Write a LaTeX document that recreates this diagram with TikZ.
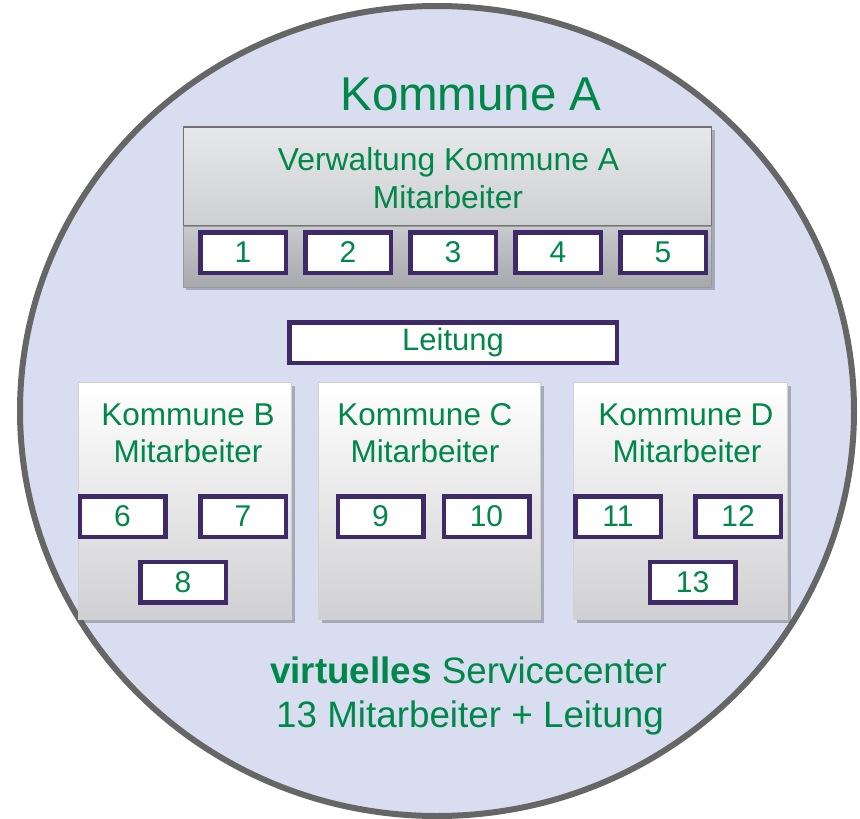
\documentclass[tikz,border=0pt]{standalone}
\usepackage{fontspec}
\setmainfont{Liberation Sans}
\usetikzlibrary{shadows}
\definecolor{kgreen}{HTML}{00874A}
\definecolor{kpurple}{HTML}{3E2A68}
\definecolor{ringfill}{HTML}{D9DDF0}
\definecolor{ringline}{HTML}{666666}
\definecolor{hdrtop}{HTML}{E6E8EA}
\definecolor{hdrbot}{HTML}{CDCFD2}
\definecolor{striptop}{HTML}{C8CACD}
\definecolor{stripbot}{HTML}{A6A8AB}
\definecolor{panelbot}{HTML}{D0D0D2}
\tikzset{
  fs/.style={font=\fontsize{#1}{#1}\selectfont},
  txt/.style={text=kgreen, inner sep=0pt, anchor=base},
  numbox/.style={draw=kpurple, line width=4.5pt, fill=white,
    minimum width=85.5pt, minimum height=40.5pt, inner sep=0pt,
    text=kgreen, fs=30},
  panel/.style={draw=black!18, line width=0.6pt,
    top color=white, middle color=white!95!black, bottom color=panelbot,
    inner sep=0pt,
    drop shadow={shadow xshift=3pt, shadow yshift=-3pt, opacity=0.35, fill=black!70}},
  softshadow/.style={drop shadow={shadow xshift=3pt, shadow yshift=-3pt, opacity=0.35, fill=black!70}},
}
\begin{document}
\begin{tikzpicture}[x=1pt,y=-1pt]
\useasboundingbox (0,0) rectangle (860,819);

% background ring and the title fragment above it
\begin{scope}
  \clip (0,0) rectangle (860,819);
  \draw[line width=6pt, draw=ringline, fill=ringfill]
    (437,411) ellipse [x radius=417, y radius=405];
  \node[txt, fs=46, font=\bfseries] (gtail) at (226,-5) {g};
\end{scope}

\node[txt, fs=47.5] (titleA) at (471,110) {Kommune A};

% administration of municipality A
\node[softshadow, fill=stripbot, minimum width=529pt, minimum height=160pt,
      inner sep=0pt] (boxA) at (447.5,207) {};
\node[draw=black!55, line width=1.5pt, top color=hdrtop, bottom color=hdrbot,
      minimum width=528pt, minimum height=99pt, inner sep=0pt] (hdrA) at (447.5,176.5) {};
\node[draw=black!40, line width=1pt, top color=striptop, bottom color=stripbot,
      minimum width=528pt, minimum height=61pt, inner sep=0pt] (stripA) at (447.5,256.5) {};
\node[txt, fs=31.8] (vA1) at (448.5,170) {Verwaltung Kommune A};
\node[txt, fs=31.8] (vA2) at (448,208) {Mitarbeiter};

\node[numbox] (n1) at (243,252.5) {1};
\node[numbox] (n2) at (348,252.5) {2};
\node[numbox] (n3) at (453,252.5) {3};
\node[numbox] (n4) at (558,252.5) {4};
\node[numbox] (n5) at (663,252.5) {5};

% head of the service centre
\node[numbox, minimum width=327.5pt, fs=31] (lead) at (453,342.5) {Leitung};

% panels for municipalities B, C, D
\node[panel, minimum width=213pt, minimum height=237pt] (pB) at (185,501) {};
\node[panel, minimum width=222pt, minimum height=237pt] (pC) at (429.5,501) {};
\node[panel, minimum width=214pt, minimum height=237pt] (pD) at (680.5,501) {};

\node[txt, fs=31.5] (tB1) at (188,425) {Kommune B};
\node[txt, fs=31.5] (tB2) at (188,462) {Mitarbeiter};
\node[txt, fs=31.5] (tC1) at (425,425) {Kommune C};
\node[txt, fs=31.5] (tC2) at (425,462) {Mitarbeiter};
\node[txt, fs=31.5] (tD1) at (686,425) {Kommune D};
\node[txt, fs=31.5] (tD2) at (687,462) {Mitarbeiter};

\node[numbox] (n6)  at (122.5,516.5) {6};
\node[numbox] (n7)  at (243,516.5) {7};
\node[numbox] (n8)  at (183,582) {8};
\node[numbox] (n9)  at (380.5,516.5) {9};
\node[numbox] (n10) at (486.5,516.5) {10};
\node[numbox] (n11) at (618,516.5) {11};
\node[numbox] (n12) at (738,516.5) {12};
\node[numbox] (n13) at (692.5,582) {13};

% caption
\node[txt, fs=36.8] (cap1) at (468.5,683) {\textbf{virtuelles} Servicecenter};
\node[txt, fs=36.8] (cap2) at (470,727) {13 Mitarbeiter + Leitung};
\end{tikzpicture}
\end{document}
